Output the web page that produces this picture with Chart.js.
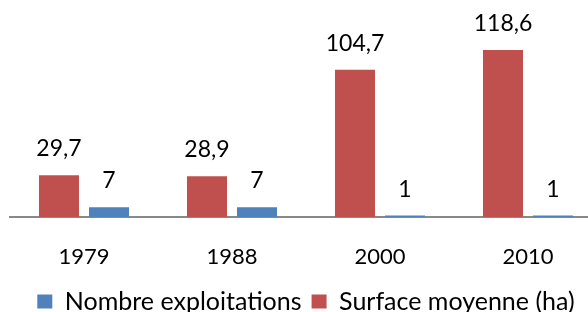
<!DOCTYPE html>
<html>
<head>
<meta charset="utf-8">
<script src="https://cdn.jsdelivr.net/npm/chart.js@4/dist/chart.umd.min.js"></script>
<style>
  html, body { margin: 0; padding: 0; background: #fff; overflow: hidden; }
  /* the reference is cropped on the right: the plot runs past the window edge */
  #wrap { width: 602px; height: 312px; }
</style>
</head>
<body>
<div id="wrap"><canvas id="barChart"></canvas></div>
<script>
// Data
const years = ["1979", "1988", "2000", "2010"];
const surfaceMoyenne = [29.7, 28.9, 104.7, 118.6];
const nombreExploitations = [7, 7, 1, 1];

const fontFamily = "Lato, 'Open Sans', sans-serif";

// draws the value above each bar (comma as decimal separator)
const valueLabels = {
  id: "valueLabels",
  afterDatasetsDraw(chart) {
    const ctx = chart.ctx;
    ctx.save();
    ctx.font = "23px " + fontFamily;
    ctx.fillStyle = "#000";
    ctx.textAlign = "center";
    ctx.textBaseline = "alphabetic";
    chart.data.datasets.forEach((ds, i) => {
      const meta = chart.getDatasetMeta(i);
      meta.data.forEach((bar, j) => {
        const txt = String(ds.data[j]).replace(".", ",");
        ctx.fillText(txt, bar.x, bar.y - 19);
      });
    });
    ctx.restore();
  }
};

function initChart() {
  const ctx = document.getElementById("barChart").getContext("2d");
  new Chart(ctx, {
    type: "bar",
    data: {
      labels: years,
      datasets: [
        {
          label: "Surface moyenne (ha)",
          data: surfaceMoyenne,
          backgroundColor: "#C0504D"
        },
        {
          label: "Nombre exploitations",
          data: nombreExploitations,
          backgroundColor: "#4F81BD"
        }
      ]
    },
    options: {
      responsive: true,
      maintainAspectRatio: false,
      animation: false,
      categoryPercentage: 0.676,
      barPercentage: 0.8,
      layout: {
        padding: { top: 20, left: 10, right: 0, bottom: -12 }
      },
      scales: {
        y: {
          display: false,
          min: 0,
          max: 140
        },
        x: {
          grid: { display: false, drawTicks: false },
          border: { color: "#898989", width: 2 },
          ticks: {
            color: "#000",
            padding: 27,
            font: { family: fontFamily, size: 22 }
          },
          afterFit(scale) {
            scale.height = 62;
          }
        }
      },
      plugins: {
        legend: {
          position: "bottom",
          reverse: true,
          labels: {
            boxWidth: 15,
            boxHeight: 14,
            color: "#000",
            padding: 10,
            font: { family: fontFamily, size: 25 }
          }
        },
        tooltip: { enabled: false }
      }
    },
    plugins: [valueLabels]
  });
}

initChart();
</script>
</body>
</html>
